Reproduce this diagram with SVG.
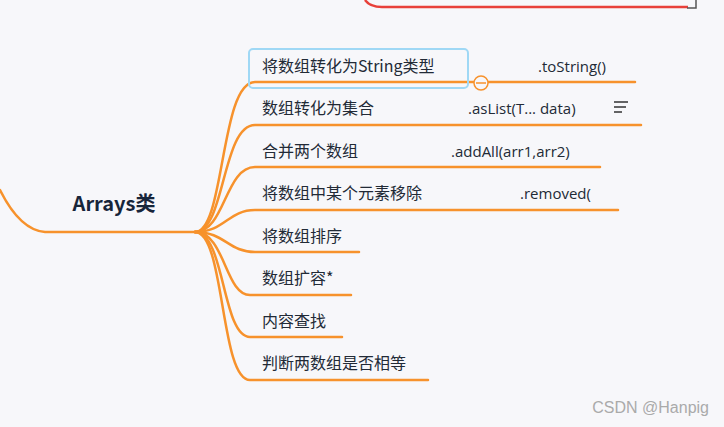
<svg xmlns="http://www.w3.org/2000/svg" width="724" height="427" viewBox="0 0 724 427">
<style>
.c{fill:none;stroke:#f7922c;stroke-width:2.5;stroke-linecap:round}
.t{font-family:"Noto Sans CJK SC","Open Sans",sans-serif;font-size:16px;fill:#222a36}
.m{font-family:"Open Sans","Noto Sans CJK SC",sans-serif;font-size:15px;fill:#222a36}
</style>
<rect width="724" height="427" fill="#f7f7fa"/>
<path d="M365,0 Q370,7 382,7 L688,7" fill="none" stroke="#e8403a" stroke-width="2.5"/>
<path d="M696,0 V8 H687" fill="none" stroke="#555" stroke-width="1.5"/>
<g id="connectors">
<path class="c" d="M0,190 Q20,230 45,232 L195,232"/>
<path class="c" d="M195,232 C225,232 220,82 255,82 L635,82"/>
<path class="c" d="M195,232 C225,232 222,125 255,125 L641,125"/>
<path class="c" d="M195,232 C225,232 225,167 255,167 L600,167"/>
<path class="c" d="M195,232 C225,232 228,210 255,210 L618,210"/>
<path class="c" d="M195,232 C225,232 228,252 255,252 L359,252"/>
<path class="c" d="M195,232 C225,232 225,295 250,295 L351,295"/>
<path class="c" d="M195,232 C225,232 222,337 250,337 L342,337"/>
<path class="c" d="M195,232 C225,232 220,380 250,380 L428,380"/>
</g>
<g id="root"><text x="114" y="211" text-anchor="middle" font-family="'Noto Sans CJK SC','Open Sans',sans-serif" font-size="20" font-weight="bold" fill="#17253a">Arrays类</text></g>
<g id="n1"><rect x="249" y="49" width="219" height="39" rx="4" fill="none" stroke="#9fd8f5" stroke-width="2"/>
<text class="t" x="262" y="72">将数组转化为String类型</text><text class="m" x="538" y="72">.toString()</text>
<circle cx="481" cy="83" r="7" fill="#f7f7fa" stroke="#f7922c" stroke-width="1.5"/><line x1="476" y1="83" x2="486" y2="83" stroke="#f7922c" stroke-width="1.5"/></g>
<g id="n2"><text class="t" x="262" y="114">数组转化为集合</text><text class="m" x="468" y="114">.asList(T... data)</text>
<path d="M614,102 H628 M614,107 H626 M614,112 H622" stroke="#333" stroke-width="1.3"/></g>
<g id="n3"><text class="t" x="262" y="157">合并两个数组</text><text class="m" x="451" y="157">.addAll(arr1,arr2)</text></g>
<g id="n4"><text class="t" x="262" y="199">将数组中某个元素移除</text><text class="m" x="520" y="199">.removed(</text></g>
<g id="n5"><text class="t" x="262" y="242">将数组排序</text></g>
<g id="n6"><text class="t" x="262" y="284">数组扩容*</text></g>
<g id="n7"><text class="t" x="262" y="327">内容查找</text></g>
<g id="n8"><text class="t" x="262" y="369">判断两数组是否相等</text></g>
<text x="709" y="413" text-anchor="end" font-family="'Liberation Sans',sans-serif" font-size="16" fill="#aaa">CSDN @Hanpig</text>
</svg>
